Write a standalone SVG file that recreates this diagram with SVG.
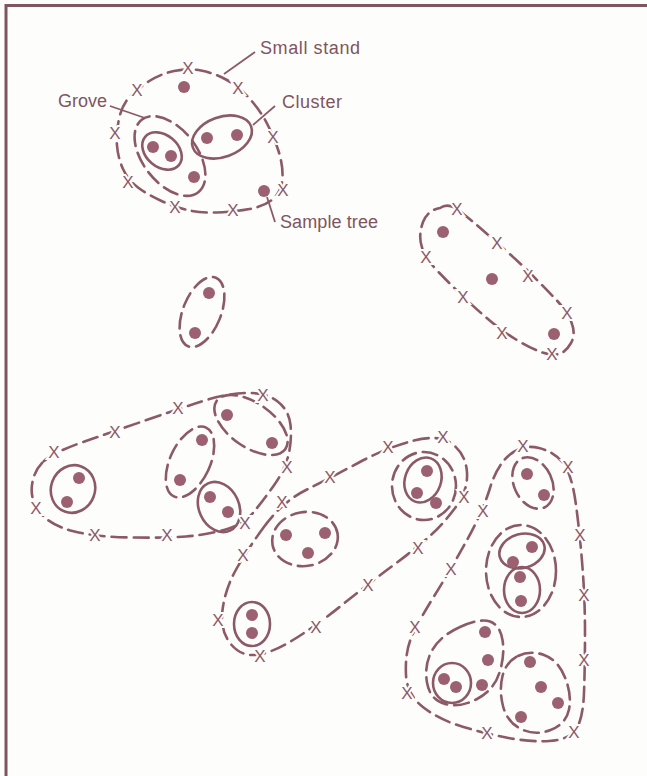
<svg xmlns="http://www.w3.org/2000/svg" width="647" height="776" viewBox="0 0 647 776">
<style>
.bg{fill:#fdfdfb}
.frame{stroke:#7f5561;stroke-width:3;fill:none}
.d{fill:none;stroke:#8c5a67;stroke-width:2.6;stroke-dasharray:15 7;stroke-linecap:round}
.s{fill:none;stroke:#8c5a67;stroke-width:2.6}
.lead{stroke:#8c5a67;stroke-width:1.8;fill:none}
.dot{fill:#9b6170}
.x{font-family:"Liberation Sans",Arial,sans-serif;font-size:17px;fill:#8c5a67;text-anchor:middle;paint-order:stroke;stroke:#fdfdfb;stroke-width:4px}
.lbl{font-family:"Liberation Sans",Arial,sans-serif;font-size:18px;fill:#7e5560}
</style>
<rect class="bg" x="0" y="0" width="647" height="776"/>
<g id="frame">
<line class="frame" x1="6" y1="5.5" x2="647" y2="5.5"/>
<line class="frame" x1="6" y1="4" x2="6" y2="776"/>
</g>

<g id="small-stand">
<path class="d" d="M174,71 Q188,68 201,70.5 Q214,73 226,79.5 Q238,86 249,98 Q260,110 267,123.5 Q274,137 278.5,151 Q283,165 282.5,177.5 Q282,190 274,198 Q266,206 249.5,209 Q233,212 216.5,212.5 Q200,213 187.5,210 Q175,207 161.5,201 Q148,195 138,187.5 Q128,180 123,169 Q118,158 117,145.5 Q116,133 119,119 Q122,105 129.5,97 Q137,89 148.5,81.5 Q160,74 174,71 Z"/>
<ellipse class="d" cx="170" cy="156" rx="46" ry="27" transform="rotate(52 170 156)"/>
<ellipse class="s" cx="162" cy="151" rx="22" ry="16" transform="rotate(40 162 151)"/>
<ellipse class="s" cx="222" cy="137" rx="31" ry="20" transform="rotate(-20 222 137)"/>
<circle class="dot" cx="184" cy="87" r="6"/><circle class="dot" cx="264" cy="191" r="6"/>
<circle class="dot" cx="153" cy="147" r="6"/><circle class="dot" cx="171" cy="156" r="6"/>
<circle class="dot" cx="194" cy="177" r="6"/><circle class="dot" cx="207" cy="138" r="6"/>
<circle class="dot" cx="237" cy="135" r="6"/>
<text class="x" x="188" y="74">X</text><text class="x" x="238" y="94">X</text>
<text class="x" x="273" y="143">X</text><text class="x" x="283" y="196">X</text>
<text class="x" x="233" y="216">X</text><text class="x" x="175" y="213">X</text>
<text class="x" x="128" y="188">X</text><text class="x" x="115" y="139">X</text>
<text class="x" x="137" y="96">X</text>
</g>

<g id="labels">
<line class="lead" x1="255" y1="52" x2="224" y2="74"/>
<line class="lead" x1="110" y1="106" x2="145" y2="118"/>
<line class="lead" x1="275" y1="106" x2="253" y2="125"/>
<line class="lead" x1="267" y1="197" x2="275" y2="222"/>
<text class="lbl" x="260" y="54" textLength="100" lengthAdjust="spacing">Small stand</text>
<text class="lbl" x="58" y="107" textLength="49" lengthAdjust="spacing">Grove</text>
<text class="lbl" x="282" y="108" textLength="60" lengthAdjust="spacing">Cluster</text>
<text class="lbl" x="280" y="228" textLength="98" lengthAdjust="spacing">Sample tree</text>
</g>

<g id="linear-stand">
<path class="d" d="M440,208 Q450,201 464,214.5 Q476,224 486.5,233.5 Q497,243 508.5,253 Q520,263 532.5,275.5 Q545,288 556,299.5 Q567,311 571.5,322.5 Q576,334 571,343 Q566,352 559,354 Q552,356 541,352 Q530,348 516,339.5 Q502,331 488.5,319.5 Q475,308 462.5,296 Q450,284 438,271.5 Q426,259 422,247.5 Q418,236 423,222 Q428,210 440,208 Z"/>
<circle class="dot" cx="443" cy="232" r="6"/><circle class="dot" cx="492" cy="279" r="6"/><circle class="dot" cx="554" cy="334" r="6"/>
<text class="x" x="457" y="215">X</text><text class="x" x="497" y="249">X</text>
<text class="x" x="528" y="282">X</text><text class="x" x="567" y="319">X</text>
<text class="x" x="552" y="360">X</text><text class="x" x="502" y="339">X</text>
<text class="x" x="463" y="303">X</text><text class="x" x="426" y="263">X</text>
</g>

<g id="lone-grove">
<ellipse class="d" cx="202" cy="312" rx="19" ry="37" transform="rotate(22 202 312)"/>
<circle class="dot" cx="209" cy="293" r="6"/><circle class="dot" cx="195" cy="333" r="6"/>
</g>

<g id="left-stand">
<path class="d" d="M44,461 Q54,452 84.5,441.5 Q115,431 146.5,420 Q178,409 201.5,401.5 Q225,394 245,393 Q265,392 277,401 Q289,410 290.5,425 Q292,440 288.5,455 Q285,470 273.5,486 Q262,502 252.5,513.5 Q243,525 224,530 Q205,535 186,536.5 Q167,538 131,537.5 Q95,537 72.5,531 Q50,525 40,512.5 Q30,500 32,485 Q34,470 44,461 Z"/>
<ellipse class="s" cx="73" cy="489" rx="22" ry="24" transform="rotate(20 73 489)"/>
<ellipse class="d" cx="190" cy="462" rx="20" ry="38" transform="rotate(25 190 462)"/>
<ellipse class="d" cx="251" cy="425" rx="42" ry="22" transform="rotate(35 251 425)"/>
<ellipse class="s" cx="219" cy="507" rx="20" ry="26" transform="rotate(-25 219 507)"/>
<circle class="dot" cx="79" cy="478" r="6"/><circle class="dot" cx="67" cy="502" r="6"/>
<circle class="dot" cx="202" cy="440" r="6"/><circle class="dot" cx="180" cy="480" r="6"/>
<circle class="dot" cx="227" cy="415" r="6"/><circle class="dot" cx="272" cy="443" r="6"/>
<circle class="dot" cx="210" cy="497" r="6"/><circle class="dot" cx="228" cy="512" r="6"/>
<text class="x" x="263" y="401">X</text><text class="x" x="178" y="414">X</text>
<text class="x" x="115" y="438">X</text><text class="x" x="54" y="458">X</text>
<text class="x" x="36" y="514">X</text><text class="x" x="95" y="541">X</text>
<text class="x" x="167" y="541">X</text><text class="x" x="245" y="529">X</text>
<text class="x" x="287" y="473">X</text>
</g>

<g id="middle-stand">
<path class="d" d="M263.5,527.5 Q282,502 306,490 Q330,478 359,462.5 Q388,447 414,440.5 Q440,434 453,444.5 Q466,455 467,472.5 Q468,490 456.5,506 Q445,522 431.5,534.5 Q418,547 393,565.5 Q368,584 342,605 Q316,626 293,640 Q270,654 255,655 Q240,656 230,643 Q220,630 222.5,610 Q225,590 235,571.5 Q245,553 263.5,527.5 Z"/>
<ellipse class="d" cx="305" cy="539" rx="33" ry="27" transform="rotate(-10 305 539)"/>
<ellipse class="s" cx="252" cy="624" rx="18" ry="22"/>
<ellipse class="d" cx="424" cy="486" rx="32" ry="34"/>
<ellipse class="s" cx="423" cy="480" rx="18" ry="23" transform="rotate(20 423 480)"/>
<circle class="dot" cx="286" cy="535" r="6"/><circle class="dot" cx="325" cy="533" r="6"/>
<circle class="dot" cx="308" cy="553" r="6"/><circle class="dot" cx="252" cy="615" r="6"/>
<circle class="dot" cx="252" cy="633" r="6"/><circle class="dot" cx="427" cy="471" r="6"/>
<circle class="dot" cx="417" cy="493" r="6"/><circle class="dot" cx="436" cy="503" r="6"/>
<text class="x" x="282" y="508">X</text><text class="x" x="330" y="483">X</text>
<text class="x" x="388" y="453">X</text><text class="x" x="443" y="443">X</text>
<text class="x" x="464" y="503">X</text><text class="x" x="418" y="554">X</text>
<text class="x" x="368" y="591">X</text><text class="x" x="316" y="633">X</text>
<text class="x" x="260" y="662">X</text><text class="x" x="218" y="626">X</text>
<text class="x" x="243" y="561">X</text>
</g>

<g id="right-stand">
<path class="d" d="M510,454.5 Q523,444 539,448 Q555,452 563.5,463.5 Q572,475 576,505 Q580,535 582.5,567.5 Q585,600 585,632.5 Q585,665 584,692.5 Q583,720 575.5,730 Q568,740 549,741 Q530,742 508.5,738 Q487,734 463.5,727 Q440,720 423.5,707.5 Q407,695 406,675 Q405,655 410,641 Q415,627 433,598 Q451,569 467,540 Q483,511 490,488 Q497,465 510,454.5 Z"/>
<ellipse class="d" cx="533" cy="483" rx="19" ry="27" transform="rotate(-25 533 483)"/>
<ellipse class="d" cx="521" cy="571" rx="35" ry="46"/>
<ellipse class="s" cx="522" cy="551" rx="23" ry="17" transform="rotate(-15 522 551)"/>
<ellipse class="s" cx="522" cy="590" rx="18" ry="23"/>
<path class="d" d="M460,627 Q480,618 490,621.5 Q500,625 502.5,640 Q505,655 499.5,672.5 Q494,690 477,699 Q460,708 445,704 Q430,700 427,682.5 Q424,665 432,650.5 Q440,636 460,627 Z"/>
<ellipse class="s" cx="452" cy="683" rx="19" ry="20"/>
<path class="d" d="M518,656 Q530,650 544,655 Q558,660 565,677.5 Q572,695 569,709.5 Q566,724 550.5,730 Q535,736 521,729 Q507,722 503,706 Q499,690 502.5,676 Q506,662 518,656 Z"/>
<circle class="dot" cx="527" cy="474" r="6"/><circle class="dot" cx="544" cy="495" r="6"/>
<circle class="dot" cx="532" cy="547" r="6"/><circle class="dot" cx="513" cy="562" r="6"/>
<circle class="dot" cx="520" cy="577" r="6"/><circle class="dot" cx="521" cy="601" r="6"/>
<circle class="dot" cx="485" cy="632" r="6"/><circle class="dot" cx="488" cy="660" r="6"/>
<circle class="dot" cx="482" cy="685" r="6"/><circle class="dot" cx="444" cy="679" r="6"/>
<circle class="dot" cx="456" cy="687" r="6"/><circle class="dot" cx="530" cy="662" r="6"/>
<circle class="dot" cx="541" cy="687" r="6"/><circle class="dot" cx="558" cy="703" r="6"/>
<circle class="dot" cx="521" cy="717" r="6"/>
<text class="x" x="523" y="452">X</text><text class="x" x="568" y="473">X</text>
<text class="x" x="580" y="541">X</text><text class="x" x="584" y="601">X</text>
<text class="x" x="584" y="666">X</text><text class="x" x="574" y="738">X</text>
<text class="x" x="487" y="739">X</text><text class="x" x="407" y="699">X</text>
<text class="x" x="415" y="633">X</text><text class="x" x="451" y="575">X</text>
<text class="x" x="483" y="517">X</text>
</g>
</svg>
